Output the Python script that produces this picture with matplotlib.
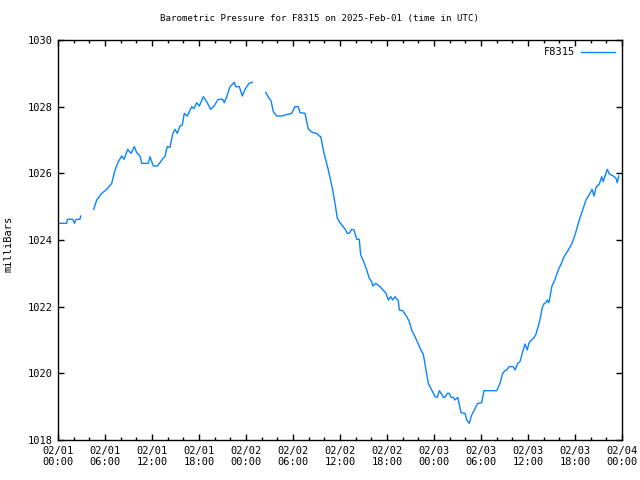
import numpy as np
import matplotlib
matplotlib.use('Agg')
import matplotlib.pyplot as plt
import matplotlib.dates as mdates
from datetime import datetime, timedelta

plt.rcParams['font.family'] = 'DejaVu Sans Mono'

# hours since 2025-02-01 00:00 UTC, NaN marks a gap in the record
hours = [
    0.0, 1.1, 1.2, 1.9, 2.1, 2.3, 2.8, 2.9, 3.5,
    4.56, 4.94, 5.58, 6.22, 6.86, 7.28, 7.70, 8.13, 8.43, 8.90, 9.32, 9.74,
    10.05, 10.47, 10.69, 11.53, 11.74, 12.17, 12.68, 13.66, 13.95, 14.30,
    14.64, 14.94, 15.23, 15.57, 15.87, 16.12, 16.51, 17.07, 17.36, 17.71,
    18.04, 18.55, 18.98, 19.49, 19.91, 20.46, 21.03, 21.23, 21.54, 21.96,
    22.51, 22.69, 23.14, 23.53, 23.87, 24.38, 24.80, 25.5,
    26.52, 26.94, 27.19, 27.49, 27.92, 28.56, 28.98, 29.83, 30.26, 30.68,
    30.89, 31.53, 31.95, 32.51, 33.03, 33.36, 33.54, 33.96, 34.51, 35.07,
    35.36, 35.66, 36.00, 36.64, 36.93, 37.19, 37.49, 37.79, 38.13, 38.46,
    38.64, 38.98, 39.41, 39.74, 40.05, 40.17, 40.56, 41.11, 41.87, 42.17,
    42.47, 42.73, 43.02, 43.44, 43.57, 44.00, 44.52, 44.85, 45.15, 45.57,
    46.00, 46.43, 46.63, 46.98, 47.27, 47.71, 48.13, 48.42, 48.68, 48.98,
    49.19, 49.40, 49.70, 49.95, 50.17, 50.46, 50.68, 51.03, 51.45, 51.96,
    52.18, 52.51, 52.81, 53.11, 53.58, 54.09, 54.38, 56.00, 56.43, 56.77,
    57.06, 57.28, 57.57, 58.12, 58.34, 58.69, 58.98, 59.32, 59.62, 59.91,
    60.13, 60.68, 60.98, 61.32, 61.53, 61.83, 62.08, 62.30, 62.46, 62.68,
    63.03, 63.45, 63.87, 64.30, 64.60, 65.02, 65.58, 66.00, 66.42, 66.55,
    66.98, 67.40, 67.91, 68.17, 68.43, 68.68, 69.10, 69.41, 69.61, 69.83,
    70.12, 70.38, 70.89, 71.23, 71.40, 71.58,
]
pressure = [
    1024.5, 1024.5, 1024.62, 1024.62, 1024.5, 1024.62, 1024.62, 1024.72, np.nan,
    1024.92, 1025.2, 1025.4, 1025.52, 1025.7, 1026.1, 1026.35, 1026.52, 1026.42, 1026.72, 1026.6, 1026.8,
    1026.62, 1026.52, 1026.3, 1026.3, 1026.5, 1026.22, 1026.22, 1026.52, 1026.8, 1026.78,
    1027.18, 1027.32, 1027.2, 1027.42, 1027.45, 1027.8, 1027.72, 1028.0, 1027.94, 1028.12,
    1028.02, 1028.3, 1028.15, 1027.92, 1028.02, 1028.22, 1028.22, 1028.12, 1028.3, 1028.6,
    1028.73, 1028.6, 1028.6, 1028.32, 1028.52, 1028.7, 1028.73, np.nan,
    1028.43, 1028.25, 1028.18, 1027.85, 1027.72, 1027.72, 1027.75, 1027.8, 1028.0, 1028.0,
    1027.82, 1027.8, 1027.33, 1027.22, 1027.2, 1027.12, 1027.1, 1026.6, 1026.1, 1025.5,
    1025.1, 1024.65, 1024.52, 1024.33, 1024.2, 1024.2, 1024.32, 1024.3, 1024.02, 1024.02,
    1023.55, 1023.38, 1023.1, 1022.85, 1022.75, 1022.62, 1022.7, 1022.6, 1022.4, 1022.2,
    1022.3, 1022.2, 1022.3, 1022.18, 1021.9, 1021.88, 1021.7, 1021.55, 1021.3, 1021.1,
    1020.88, 1020.65, 1020.58, 1020.1, 1019.7, 1019.5, 1019.3, 1019.28, 1019.48, 1019.38,
    1019.28, 1019.28, 1019.4, 1019.4, 1019.28, 1019.28, 1019.2, 1019.28, 1018.82, 1018.8,
    1018.6, 1018.5, 1018.75, 1018.88, 1019.1, 1019.12, 1019.48, 1019.48, 1019.7, 1020.0,
    1020.08, 1020.1, 1020.2, 1020.2, 1020.1, 1020.3, 1020.35, 1020.65, 1020.88, 1020.7,
    1020.92, 1021.05, 1021.15, 1021.42, 1021.62, 1021.98, 1022.1, 1022.12, 1022.2, 1022.12,
    1022.6, 1022.82, 1023.1, 1023.32, 1023.5, 1023.65, 1023.88, 1024.15, 1024.5, 1024.6,
    1024.9, 1025.2, 1025.4, 1025.52, 1025.32, 1025.58, 1025.68, 1025.9, 1025.75, 1025.92,
    1026.12, 1025.98, 1025.92, 1025.85, 1025.72, 1025.92,
]

start = datetime(2025, 2, 1)
times = [start + timedelta(hours=h) for h in hours]

fig = plt.figure(figsize=(6.4, 4.8), dpi=100)
ax = fig.add_axes([58 / 640, 40 / 480, 564 / 640, 400 / 480])

ax.plot(times, pressure, color='#0a84ff', lw=1.0, label='F8315')

ax.set_xlim(start, start + timedelta(hours=72))
ax.set_ylim(1018, 1030)
ax.set_yticks(np.arange(1018, 1031, 2))
ax.xaxis.set_major_locator(mdates.HourLocator(byhour=range(0, 24, 6)))
ax.xaxis.set_minor_locator(mdates.HourLocator(byhour=range(0, 24, 2)))
ax.xaxis.set_major_formatter(mdates.DateFormatter('%m/%d\n%H:%M'))

ax.tick_params(which='both', direction='in', top=True, right=True,
               labelsize=7.5, width=1.0, color='black')
ax.tick_params(which='major', length=4.5, pad=4)
ax.tick_params(which='minor', length=2.5)
for s in ax.spines.values():
    s.set_linewidth(1.0)

ax.set_ylabel('milliBars', fontsize=7.5)
ax.yaxis.set_label_coords(-44 / 564, 0.49)
fig.text(0.5, 1 - 19 / 480, 'Barometric Pressure for F8315 on 2025-Feb-01 (time in UTC)',
         ha='center', va='center', fontsize=6.6)

ax.legend(loc='upper right', frameon=False, fontsize=7.5, handlelength=3.2,
          markerfirst=False, borderaxespad=0.3, handletextpad=0.6)

fig.savefig('out.png', dpi=100)
